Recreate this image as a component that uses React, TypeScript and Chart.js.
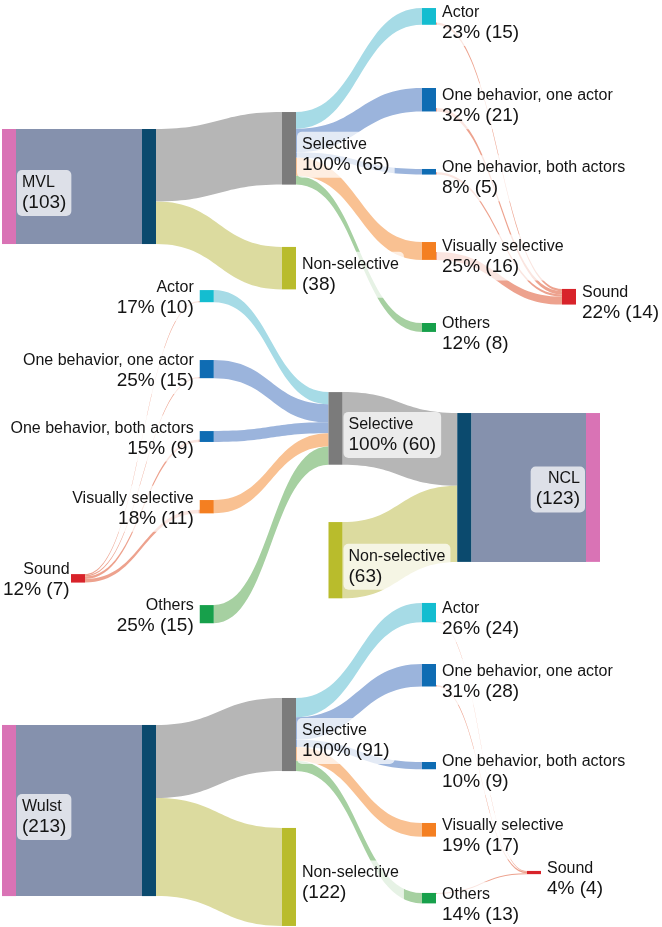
import { useEffect, useRef } from "react";
import { Chart, registerables } from "chart.js";

Chart.register(...registerables);

// ---------------------------------------------------------------------------
// Data: neuron counts per brain region
// ---------------------------------------------------------------------------
const categories = [
  "Actor",
  "One behavior, one actor",
  "One behavior, both actors",
  "Visually selective",
  "Others",
];

// MVL
const mvlSelective = 65;
const mvlNonSelective = 38;
const mvlCategoryCounts = [15, 21, 5, 16, 8];
const mvlSoundByCategory = [2, 3, 2, 7, 0];

// NCL
const nclSelective = 60;
const nclNonSelective = 63;
const nclCategoryCounts = [10, 15, 9, 11, 15];
const nclSoundByCategory = [1, 1, 2, 3, 0];

// Wulst
const wulstSelective = 91;
const wulstNonSelective = 122;
const wulstCategoryCounts = [24, 28, 9, 17, 13];
const wulstSoundByCategory = [1, 2, 0, 0, 1];

// ---------------------------------------------------------------------------
// Styling
// ---------------------------------------------------------------------------
const NODE_W = 14;
const FONT = '"Liberation Sans", Arial, Helvetica, sans-serif';
const TEXT_COLOR = "#141414";
const LABEL_BG = "rgba(255,255,255,0.72)";

const regionNodeColor = "#d973b5";
const regionFlowColor = "#8591ad";
const hubNodeColor = "#0b4a6e";
const selNodeColor = "#7b7b7b";
const selFlowColor = "#b6b6b6";
const nonNodeColor = "#b9bc2c";
const nonFlowColor = "#dcdb9f";
const catNodeColors = ["#14bdd0", "#0f6cb3", "#0f6cb3", "#f47f21", "#17a04b"];
const catFlowColors = ["#a6dbe6", "#9bb4dc", "#9bb4dc", "#f9c192", "#a6d0a1"];
const soundNodeColor = "#d8232a";
const soundFlowColor = "rgba(232,136,110,0.78)";

// ---------------------------------------------------------------------------
// Layout: tier columns and node top edges (in each section's value units)
// ---------------------------------------------------------------------------
type Layout = {
  xScale: string;
  yScale: string;
  mirrored: boolean;
  cols: { region: number; hub: number; split: number; cat: number; sound: number };
  tops: { region: number; selective: number; nonSelective: number; cats: number[]; sound: number };
};

const mvlLayout: Layout = {
  xScale: "x",
  yScale: "yMVL",
  mirrored: false,
  cols: { region: 0, hub: 1, split: 2, cat: 3, sound: 4 },
  tops: { region: 115.5, selective: 100.3, nonSelective: 221.1, cats: [7.2, 78.8, 151.3, 216.7, 289.2], sound: 258.7 },
};

const nclLayout: Layout = {
  xScale: "xMirror",
  yScale: "yNCL",
  mirrored: true,
  cols: { region: 4, hub: 3, split: 2, cat: 1, sound: 0 },
  tops: { region: 341.3, selective: 324, nonSelective: 431.4, cats: [239.7, 297.5, 356.2, 413.2, 500], sound: 474.4 },
};

const wulstLayout: Layout = {
  xScale: "x",
  yScale: "yWulst",
  mirrored: false,
  cols: { region: 0, hub: 1, split: 2, cat: 3, sound: 3.75 },
  tops: { region: 902.5, selective: 868.9, nonSelective: 1030.7, cats: [750.6, 826.6, 948.6, 1024.5, 1111.6], sound: 1084.2 },
};

// ---------------------------------------------------------------------------
// Sankey model
// ---------------------------------------------------------------------------
type SNode = {
  id: string;
  col: number;
  top: number;
  size: number;
  color: string;
  lines: string[] | null;
  side: "left" | "right";
};
type SLink = { from: string; to: string; value: number; color: string };
type Section = { layout: Layout; nodes: SNode[]; links: SLink[] };

const sum = (a: number[]) => a.reduce((s, v) => s + v, 0);

function buildSection(
  name: string,
  selective: number,
  nonSelective: number,
  catCounts: number[],
  soundByCat: number[],
  layout: Layout
): Section {
  const total = selective + nonSelective;
  const soundTotal = sum(soundByCat);
  const pct = (v: number) => Math.round((100 * v) / selective);
  const outer = layout.mirrored ? "left" : "right";
  const { cols, tops } = layout;

  const nodes: SNode[] = [
    { id: "region", col: cols.region, top: tops.region, size: total, color: regionNodeColor, lines: [name, `(${total})`], side: outer },
    { id: "hub", col: cols.hub, top: tops.region, size: total, color: hubNodeColor, lines: null, side: "right" },
    { id: "sel", col: cols.split, top: tops.selective, size: selective, color: selNodeColor, lines: ["Selective", `${pct(selective)}% (${selective})`], side: "right" },
    { id: "non", col: cols.split, top: tops.nonSelective, size: nonSelective, color: nonNodeColor, lines: ["Non-selective", `(${nonSelective})`], side: "right" },
  ];
  catCounts.forEach((v, i) => {
    nodes.push({ id: "c" + i, col: cols.cat, top: tops.cats[i], size: v, color: catNodeColors[i], lines: [categories[i], `${pct(v)}% (${v})`], side: outer });
  });
  nodes.push({ id: "sound", col: cols.sound, top: tops.sound, size: soundTotal, color: soundNodeColor, lines: ["Sound", `${pct(soundTotal)}% (${soundTotal})`], side: outer });

  const links: SLink[] = [
    { from: "region", to: "hub", value: total, color: regionFlowColor },
    { from: "hub", to: "sel", value: selective, color: selFlowColor },
    { from: "hub", to: "non", value: nonSelective, color: nonFlowColor },
  ];
  catCounts.forEach((v, i) => links.push({ from: "sel", to: "c" + i, value: v, color: catFlowColors[i] }));
  soundByCat.forEach((v, i) => {
    if (v > 0) links.push({ from: "c" + i, to: "sound", value: v, color: soundFlowColor });
  });

  return { layout, nodes, links };
}

const sections: Section[] = [
  buildSection("MVL", mvlSelective, mvlNonSelective, mvlCategoryCounts, mvlSoundByCategory, mvlLayout),
  buildSection("NCL", nclSelective, nclNonSelective, nclCategoryCounts, nclSoundByCategory, nclLayout),
  buildSection("Wulst", wulstSelective, wulstNonSelective, wulstCategoryCounts, wulstSoundByCategory, wulstLayout),
];

// ---------------------------------------------------------------------------
// Drawing
// ---------------------------------------------------------------------------
type Rect = { x0: number; x1: number; y0: number; y1: number };

function nodeRect(chart: Chart, sec: Section, n: SNode): Rect {
  const xs = chart.scales[sec.layout.xScale];
  const ys = chart.scales[sec.layout.yScale];
  const x0 = xs.getPixelForValue(n.col);
  return { x0, x1: x0 + NODE_W, y0: ys.getPixelForValue(n.top), y1: ys.getPixelForValue(n.top + n.size) };
}

type Placed = { link: SLink; xL: number; yL0: number; yL1: number; xR: number; yR0: number; yR1: number };

function placeLinks(chart: Chart, sec: Section): Placed[] {
  const ys = chart.scales[sec.layout.yScale];
  const byId: Record<string, SNode> = {};
  sec.nodes.forEach((n) => (byId[n.id] = n));
  const rects: Record<string, Rect> = {};
  sec.nodes.forEach((n) => (rects[n.id] = nodeRect(chart, sec, n)));

  // Which node sits on the left of each link
  const info = sec.links.map((link) => {
    const a = byId[link.from];
    const b = byId[link.to];
    const aLeft = rects[a.id].x0 < rects[b.id].x0;
    return { link, left: aLeft ? a : b, right: aLeft ? b : a, lo: 0, ro: 0 };
  });

  // Stack the links on every node side
  const stack = (node: SNode, entries: { other: SNode; set: (v: number) => void; value: number }[]) => {
    if (!entries.length) return;
    entries.sort((p, q) => p.other.top - q.other.top);
    const total = sum(entries.map((e) => e.value));
    const cy = node.top + node.size / 2;
    const allAbove = entries.every((e) => e.other.top + e.other.size / 2 < cy);
    let start = node.top;
    if (total < node.size - 1e-9 && !allAbove) start = node.top + node.size - total;
    entries.forEach((e) => {
      e.set(start);
      start += e.value;
    });
  };

  sec.nodes.forEach((n) => {
    const rightSide = info
      .filter((i) => i.left.id === n.id)
      .map((i) => ({ other: i.right, value: i.link.value, set: (v: number) => (i.lo = v) }));
    const leftSide = info
      .filter((i) => i.right.id === n.id)
      .map((i) => ({ other: i.left, value: i.link.value, set: (v: number) => (i.ro = v) }));
    stack(n, rightSide);
    stack(n, leftSide);
  });

  return info.map((i) => ({
    link: i.link,
    xL: rects[i.left.id].x1,
    yL0: ys.getPixelForValue(i.lo),
    yL1: ys.getPixelForValue(i.lo + i.link.value),
    xR: rects[i.right.id].x0,
    yR0: ys.getPixelForValue(i.ro),
    yR1: ys.getPixelForValue(i.ro + i.link.value),
  }));
}

function drawBand(ctx: CanvasRenderingContext2D, p: Placed) {
  const xm = (p.xL + p.xR) / 2;
  ctx.beginPath();
  ctx.moveTo(p.xL, p.yL0);
  ctx.bezierCurveTo(xm, p.yL0, xm, p.yR0, p.xR, p.yR0);
  ctx.lineTo(p.xR, p.yR1);
  ctx.bezierCurveTo(xm, p.yR1, xm, p.yL1, p.xL, p.yL1);
  ctx.closePath();
  ctx.fillStyle = p.link.color;
  ctx.fill();
}

const F1 = `16px ${FONT}`;
const F2 = `19px ${FONT}`;

type LabelBox = { tx: number; b1: number; b2: number; w: number; right: boolean };

function measureLabel(ctx: CanvasRenderingContext2D, r: Rect, n: SNode): LabelBox | null {
  if (!n.lines) return null;
  const cy = (r.y0 + r.y1) / 2;
  const right = n.side === "right";
  const b1 = right ? cy + 0.5 : cy - 4;
  const b2 = b1 + 21;
  ctx.font = F1;
  const w1 = ctx.measureText(n.lines[0]).width;
  ctx.font = F2;
  const w2 = ctx.measureText(n.lines[1]).width;
  const w = Math.max(w1, w2);
  let tx = right ? r.x1 + 6 : r.x0 - 6;
  // keep right-aligned labels inside the canvas
  if (!right && tx - w < 3) tx = 3 + w;
  return { tx, b1, b2, w, right };
}

function drawLabelBox(ctx: CanvasRenderingContext2D, L: LabelBox) {
  const bx = L.right ? L.tx - 5 : L.tx - L.w - 5;
  const by = L.b1 - 17;
  const bh = L.b2 + 8 - by;
  ctx.fillStyle = LABEL_BG;
  ctx.beginPath();
  ctx.roundRect(bx, by, L.w + 10, bh, 5);
  ctx.fill();
}

function drawLabelText(ctx: CanvasRenderingContext2D, L: LabelBox, n: SNode) {
  if (!n.lines) return;
  ctx.fillStyle = TEXT_COLOR;
  ctx.textAlign = L.right ? "left" : "right";
  ctx.textBaseline = "alphabetic";
  ctx.font = F1;
  ctx.fillText(n.lines[0], L.tx, L.b1);
  ctx.font = F2;
  ctx.fillText(n.lines[1], L.tx, L.b2);
}

const sankeyPainter = {
  id: "sankeyPainter",
  afterDraw(chart: Chart) {
    const ctx = chart.ctx;
    ctx.save();
    const placed = sections.map((s) => placeLinks(chart, s));
    // main flows first, sound flows on top
    placed.forEach((ps) => ps.filter((p) => p.link.to !== "sound").forEach((p) => drawBand(ctx, p)));
    placed.forEach((ps) => ps.filter((p) => p.link.to === "sound").forEach((p) => drawBand(ctx, p)));

    const labels: { L: LabelBox; n: SNode }[] = [];
    sections.forEach((s) =>
      s.nodes.forEach((n) => {
        const L = measureLabel(ctx, nodeRect(chart, s, n), n);
        if (L) labels.push({ L, n });
      })
    );
    labels.forEach(({ L }) => drawLabelBox(ctx, L));

    sections.forEach((s) =>
      s.nodes.forEach((n) => {
        const r = nodeRect(chart, s, n);
        ctx.fillStyle = n.color;
        ctx.fillRect(r.x0, r.y0, r.x1 - r.x0, r.y1 - r.y0);
      })
    );

    labels.forEach(({ L, n }) => drawLabelText(ctx, L, n));
    ctx.restore();
  },
};

export default function App() {
  const canvasRef = useRef<HTMLCanvasElement | null>(null);

  useEffect(() => {
    const canvas = canvasRef.current;
    if (!canvas) return;
    const hidden = (extra: Record<string, unknown>) => ({ type: "linear" as const, display: false, ...extra });
    const chart = new Chart(canvas, {
      type: "scatter",
      data: { datasets: [] },
      options: {
        animation: false,
        responsive: true,
        maintainAspectRatio: false,
        devicePixelRatio: 1,
        events: [],
        layout: { padding: 0 },
        plugins: { legend: { display: false }, tooltip: { enabled: false }, title: { display: false } },
        scales: {
          x: hidden({ axis: "x", min: -2 / 140, max: 660 / 140 }),
          xMirror: hidden({ axis: "x", min: -71 / 128.75, max: 591 / 128.75 }),
          yMVL: hidden({ axis: "y", reverse: true, min: 0, max: 830 }),
          yNCL: hidden({ axis: "y", reverse: true, min: 0, max: 766 }),
          yWulst: hidden({ axis: "y", reverse: true, min: 0, max: 1154 }),
        },
      } as any,
      plugins: [sankeyPainter as any],
    });
    return () => chart.destroy();
  }, []);

  return (
    <div style={{ position: "absolute", left: 0, top: 0, width: 662, height: 927, background: "#fff" }}>
      <canvas ref={canvasRef} style={{ display: "block" }} />
    </div>
  );
}
